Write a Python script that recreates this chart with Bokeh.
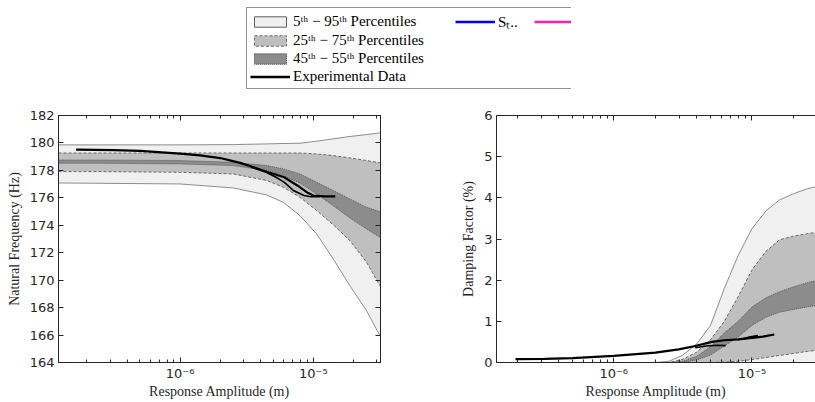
import numpy as np
from bokeh.plotting import figure
from bokeh.models import (Range1d, LogAxis, LinearAxis, FixedTicker, CustomJSTickFormatter,
                          Legend, LegendItem)
from bokeh.layouts import column, row
from bokeh.embed import file_html
from bokeh.resources import INLINE

# ---------------- data ----------------
FREQ_AMP = [1.224e-7, 2.51e-7, 1.0e-6, 2.51e-6, 4.47e-6, 5.96e-6, 7.94e-6, 1.06e-5, 1.41e-5, 1.88e-5, 2.51e-5, 3.16e-5]
FREQ_P95 = [179.86, 179.86, 179.86, 179.88, 179.93, 179.96, 179.98, 180.13, 180.30, 180.47, 180.61, 180.73]
FREQ_P5 = [177.08, 177.06, 177.01, 176.72, 176.21, 175.67, 174.70, 173.36, 171.54, 169.59, 167.77, 165.94]
FREQ_P75 = [179.27, 179.27, 179.27, 179.27, 179.27, 179.27, 179.27, 179.20, 179.08, 178.91, 178.72, 178.55]
FREQ_P25 = [177.91, 177.91, 177.86, 177.74, 177.26, 176.77, 176.04, 175.07, 174.04, 172.88, 171.29, 169.59]
FREQ_P55 = [178.76, 178.76, 178.72, 178.59, 178.35, 178.11, 177.74, 177.13, 176.53, 175.92, 175.31, 175.00]
FREQ_P45 = [178.52, 178.52, 178.47, 178.35, 177.99, 177.62, 177.06, 176.28, 175.43, 174.53, 173.73, 173.12]

DAMP_AMP = [1.2e-7, 1.0e-6, 2.0e-6, 2.51e-6, 3.16e-6, 3.98e-6, 5.01e-6, 6.31e-6, 7.94e-6, 1.0e-5, 1.26e-5, 1.58e-5, 2.0e-5, 2.51e-5, 3.16e-5]
DAMP_P95 = [0, 0, 0, 0.03, 0.18, 0.45, 0.90, 1.80, 2.60, 3.25, 3.68, 3.95, 4.10, 4.22, 4.30]
DAMP_P5 = [0, 0, 0, 0, 0, 0, 0, 0, 0, 0, 0, 0, 0, 0, 0]
DAMP_P75 = [0, 0, 0, 0, 0.08, 0.25, 0.55, 1.00, 1.60, 2.25, 2.70, 2.98, 3.07, 3.13, 3.18]
DAMP_P25 = [0, 0, 0, 0, 0, 0, 0, 0.01, 0.03, 0.07, 0.12, 0.17, 0.22, 0.27, 0.30]
DAMP_P55 = [0, 0, 0, 0, 0.03, 0.15, 0.38, 0.72, 1.00, 1.35, 1.57, 1.72, 1.84, 1.94, 2.02]
DAMP_P45 = [0, 0, 0, 0, 0, 0.06, 0.18, 0.40, 0.62, 0.90, 1.10, 1.22, 1.29, 1.35, 1.40]

EXP_F_A_AMP = [1.66e-7, 3.16e-7, 5.01e-7, 1.0e-6, 1.41e-6, 2.0e-6, 2.82e-6, 3.39e-6, 4.47e-6, 6.03e-6, 7.59e-6, 8.91e-6, 1.0e-5, 1.2e-5, 1.46e-5]
EXP_F_A_VAL = [179.52, 179.47, 179.42, 179.22, 179.09, 178.90, 178.55, 178.30, 177.90, 177.50, 176.90, 176.41, 176.17, 176.10, 176.10]
EXP_F_B_AMP = [3.39e-6, 4.47e-6, 5.25e-6, 6.03e-6, 7.08e-6, 8.51e-6, 9.55e-6, 1.12e-5]
EXP_F_B_VAL = [178.25, 177.85, 177.50, 177.14, 176.54, 176.17, 176.08, 176.08]

EXP_D_A_AMP = [1.95e-7, 3.16e-7, 5.01e-7, 1.0e-6, 2.0e-6, 2.95e-6, 3.89e-6, 5.13e-6, 6.31e-6, 7.94e-6, 1.0e-5, 1.2e-5, 1.45e-5]
EXP_D_A_VAL = [0.08, 0.09, 0.105, 0.16, 0.24, 0.32, 0.40, 0.50, 0.54, 0.56, 0.60, 0.63, 0.68]
EXP_D_B_AMP = [3.89e-6, 4.68e-6, 5.62e-6, 6.46e-6]
EXP_D_B_VAL = [0.36, 0.40, 0.42, 0.41]
EXP_D_C_AMP = [7.94e-6, 9.55e-6, 1.1e-5, 1.02e-5, 8.3e-6]
EXP_D_C_VAL = [0.55, 0.62, 0.66, 0.60, 0.57]

FREQ_YTICKS = [164, 166, 168, 170, 172, 174, 176, 178, 180, 182]
DAMP_YTICKS = [0, 1, 2, 3, 4, 5, 6]
X_MAJOR = [1e-6, 1e-5]
X_MINOR = [k * 10.0 ** e for e in (-7, -6, -5) for k in range(2, 10)]

LEGEND_LABELS = ["5ᵗʰ − 95ᵗʰ Percentiles", "25ᵗʰ − 75ᵗʰ Percentiles",
                 "45ᵗʰ − 55ᵗʰ Percentiles", "Experimental Data", "Sₜ..", " "]

# ---------------- style ----------------
AX = "#262626"
TICK_FONT = "DejaVu Sans"
LABEL_FONT = "Liberation Serif"
F95, F75, F55 = "#f0f0f0", "#bfbfbf", "#8c8c8c"
L95 = dict(line_color="#5f5f5f", line_width=0.7)
L75 = dict(line_color="#3a3a3a", line_width=0.7, line_dash="3 2")
L55 = dict(line_color="#3a3a3a", line_width=0.7, line_dash="1 1")

exp_fmt = CustomJSTickFormatter(code="""
const e = Math.round(Math.log10(tick));
const m = {"-":"\u207b","0":"\u2070","1":"\u00b9","2":"\u00b2","3":"\u00b3","4":"\u2074","5":"\u2075","6":"\u2076","7":"\u2077","8":"\u2078","9":"\u2079"};
return "10" + String(e).split("").map(c => m[c]).join("");
""")
blank_fmt = CustomJSTickFormatter(code="return '';")


def style_axis(ax, labels=True):
    ax.axis_line_color = AX
    ax.major_tick_line_color = AX
    ax.minor_tick_line_color = AX
    ax.major_tick_in = 5
    ax.major_tick_out = 0
    ax.minor_tick_in = 3
    ax.minor_tick_out = 0
    ax.major_label_text_color = AX
    ax.major_label_text_font = TICK_FONT
    ax.major_label_text_font_size = "13px" if labels else "1px"
    ax.major_label_standoff = 4 if labels else 0
    ax.axis_label_text_font = LABEL_FONT
    ax.axis_label_text_font_style = "normal"
    ax.axis_label_text_font_size = "14px"
    ax.axis_label_text_color = AX
    ax.axis_label_standoff = 5


def make_panel(xr, yr, yticks, ylabel, width, mbl, mbr, right_axis):
    p = figure(width=width, height=306, x_axis_type="log", x_range=xr, y_range=yr,
               output_backend="svg", toolbar_location=None,
               min_border_left=mbl, min_border_right=mbr, min_border_top=19, min_border_bottom=40)
    p.grid.visible = False
    p.outline_line_color = AX if right_axis else None
    p.background_fill_color = "white"
    p.border_fill_color = "white"
    xa = p.xaxis[0]
    xa.ticker = FixedTicker(ticks=X_MAJOR, minor_ticks=X_MINOR)
    xa.formatter = exp_fmt
    style_axis(xa)
    xa.axis_label = "Response Amplitude (m)"
    xa.major_label_standoff = 3
    xa.axis_label_standoff = 0
    ya = p.yaxis[0]
    ya.ticker = FixedTicker(ticks=yticks)
    style_axis(ya)
    ya.minor_tick_line_color = None
    ya.axis_label = ylabel
    top = LogAxis(ticker=FixedTicker(ticks=X_MAJOR, minor_ticks=X_MINOR), formatter=blank_fmt)
    style_axis(top, labels=False)
    p.add_layout(top, "above")
    if right_axis:
        ra = LinearAxis(ticker=FixedTicker(ticks=yticks), formatter=blank_fmt)
        style_axis(ra, labels=False)
        ra.minor_tick_line_color = None
        p.add_layout(ra, "right")
    return p


def draw_bands(p, amp, p95, p5, p75, p25, p55, p45):
    p.varea(x=amp, y1=p5, y2=p95, fill_color=F95)
    p.varea(x=amp, y1=p25, y2=p75, fill_color=F75)
    p.varea(x=amp, y1=p45, y2=p55, fill_color=F55)
    for ys in (p95, p5):
        p.line(amp, ys, **L95)
    for ys in (p75, p25):
        p.line(amp, ys, **L75)
    for ys in (p55, p45):
        p.line(amp, ys, **L55)


p1 = make_panel(Range1d(1.224e-7, 3.19e-5), Range1d(164, 182), FREQ_YTICKS,
                "Natural Frequency (Hz)", 440, 58, 60, True)
draw_bands(p1, FREQ_AMP, FREQ_P95, FREQ_P5, FREQ_P75, FREQ_P25, FREQ_P55, FREQ_P45)
p1.line(EXP_F_A_AMP, EXP_F_A_VAL, line_color="black", line_width=2.2)
p1.line(EXP_F_B_AMP, EXP_F_B_VAL, line_color="black", line_width=1.6)

p2 = make_panel(Range1d(1.42e-7, 2.88e-5), Range1d(0, 6), DAMP_YTICKS,
                "Damping Factor (%)", 375, 56, 0, False)
draw_bands(p2, DAMP_AMP, DAMP_P95, DAMP_P5, DAMP_P75, DAMP_P25, DAMP_P55, DAMP_P45)
p2.line(EXP_D_A_AMP, EXP_D_A_VAL, line_color="black", line_width=2.2)
p2.line(EXP_D_B_AMP, EXP_D_B_VAL, line_color="black", line_width=1.6)
p2.line(EXP_D_C_AMP, EXP_D_C_VAL, line_color="black", line_width=1.4)

# ---------------- legend strip ----------------
lf = figure(width=571, height=96, x_range=Range1d(0, 1), y_range=Range1d(0, 1),
            output_backend="svg", toolbar_location=None, min_border=0)
lf.axis.visible = False
lf.grid.visible = False
lf.outline_line_color = None
lf.border_fill_color = "white"
lf.background_fill_color = "white"
OFF_X = [5, 6, 6]
OFF_Y = [5, 5, 6]
r95 = lf.patch(x=OFF_X, y=OFF_Y, fill_color=F95, line_color="#5f5f5f", line_width=1)
r75 = lf.patch(x=OFF_X, y=OFF_Y, fill_color=F75, line_color="#6a6a6a", line_width=1, line_dash="3 2")
r55 = lf.patch(x=OFF_X, y=OFF_Y, fill_color=F55, line_color="#3a3a3a", line_width=1, line_dash="1 1")
rex = lf.line(x=OFF_X, y=OFF_Y, line_color="black", line_width=2.5)
rbl = lf.line(x=OFF_X, y=OFF_Y, line_color="#0000ff", line_width=2.5)
rdm = lf.line(x=OFF_X, y=OFF_Y, line_alpha=0)
rpk = lf.line(x=OFF_X, y=OFF_Y, line_color="#ff1cae", line_width=2.5)
PAD = "\u2002" * 4
items = [LegendItem(label=LEGEND_LABELS[0], renderers=[r95]),
         LegendItem(label=LEGEND_LABELS[1] + PAD, renderers=[r75]),
         LegendItem(label=LEGEND_LABELS[2], renderers=[r55]),
         LegendItem(label=LEGEND_LABELS[3], renderers=[rex]),
         LegendItem(label=LEGEND_LABELS[4] + "\u2002\u2002", renderers=[rbl]),
         LegendItem(label="  ", renderers=[rdm]),
         LegendItem(label="   ", renderers=[rdm]),
         LegendItem(label="    ", renderers=[rdm]),
         LegendItem(label=LEGEND_LABELS[5], renderers=[rpk])]
leg = Legend(items=items, location=(246, 7), orientation="vertical", nrows=4,
             padding=3, spacing=1, margin=0, glyph_width=40, glyph_height=13,
             label_height=15, label_standoff=3, label_text_font=LABEL_FONT,
             label_text_font_size="15px", label_text_color="black",
             border_line_color=AX, border_line_width=1, background_fill_color="white")
lf.add_layout(leg, "center")

layout = column(lf, row(p1, p2))
open("out.html", "w").write(file_html(layout, INLINE))
